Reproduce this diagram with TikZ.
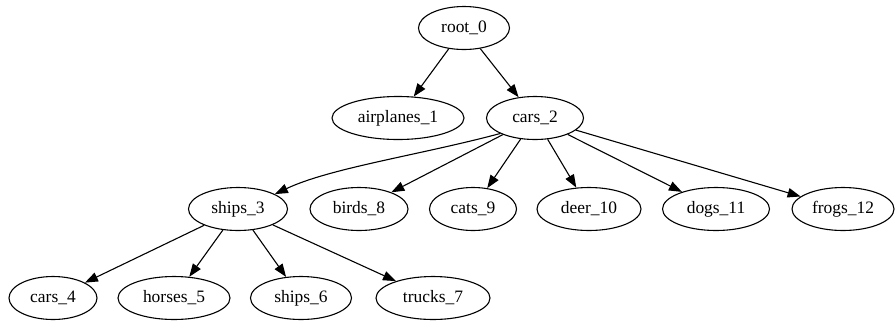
\documentclass[tikz,border=0pt]{standalone}
\usepackage{fontspec}
\setmainfont{Liberation Serif}
\usetikzlibrary{shapes.geometric,arrows.meta}
\begin{document}
\begin{tikzpicture}[x=1bp,y=-1bp,
  tnode/.style={draw,ellipse,line width=1.1bp,inner sep=0pt,minimum height=43bp,
    font=\fontsize{17.5}{20}\selectfont},
  edge/.style={line width=1.1bp,-{Triangle[length=13bp,width=9.5bp]}}]
\useasboundingbox (0,0) rectangle (895,322);
\node[tnode,minimum width=91bp] (r0) at (464,28) {root\_0};
\node[tnode,minimum width=132bp] (a1) at (398,118) {airplanes\_1};
\node[tnode,minimum width=97bp] (c2) at (535,118) {cars\_2};
\node[tnode,minimum width=99bp] (s3) at (238,209) {ships\_3};
\node[tnode,minimum width=98bp] (b8) at (359,209) {birds\_8};
\node[tnode,minimum width=87bp] (c9) at (473,209) {cats\_9};
\node[tnode,minimum width=104bp] (d10) at (589,209) {deer\_10};
\node[tnode,minimum width=107bp] (d11) at (716,209) {dogs\_11};
\node[tnode,minimum width=102bp] (f12) at (843,209) {frogs\_12};
\node[tnode,minimum width=88bp] (c4) at (53,298) {cars\_4};
\node[tnode,minimum width=112bp] (h5) at (174,298) {horses\_5};
\node[tnode,minimum width=101bp] (s6) at (301,298) {ships\_6};
\node[tnode,minimum width=114bp] (t7) at (433,298) {trucks\_7};
\draw[edge] (r0) -- (a1);
\draw[edge] (r0) -- (c2);
\draw[edge] (c2.204) .. controls (420,155) and (330,168) .. (s3.22);
\draw[edge] (c2) -- (b8);
\draw[edge] (c2) -- (c9);
\draw[edge] (c2) -- (d10);
\draw[edge] (c2) -- (d11);
\draw[edge] (c2) -- (f12);
\draw[edge] (s3) -- (c4);
\draw[edge] (s3) -- (h5);
\draw[edge] (s3) -- (s6);
\draw[edge] (s3) -- (t7);
\end{tikzpicture}
\end{document}
